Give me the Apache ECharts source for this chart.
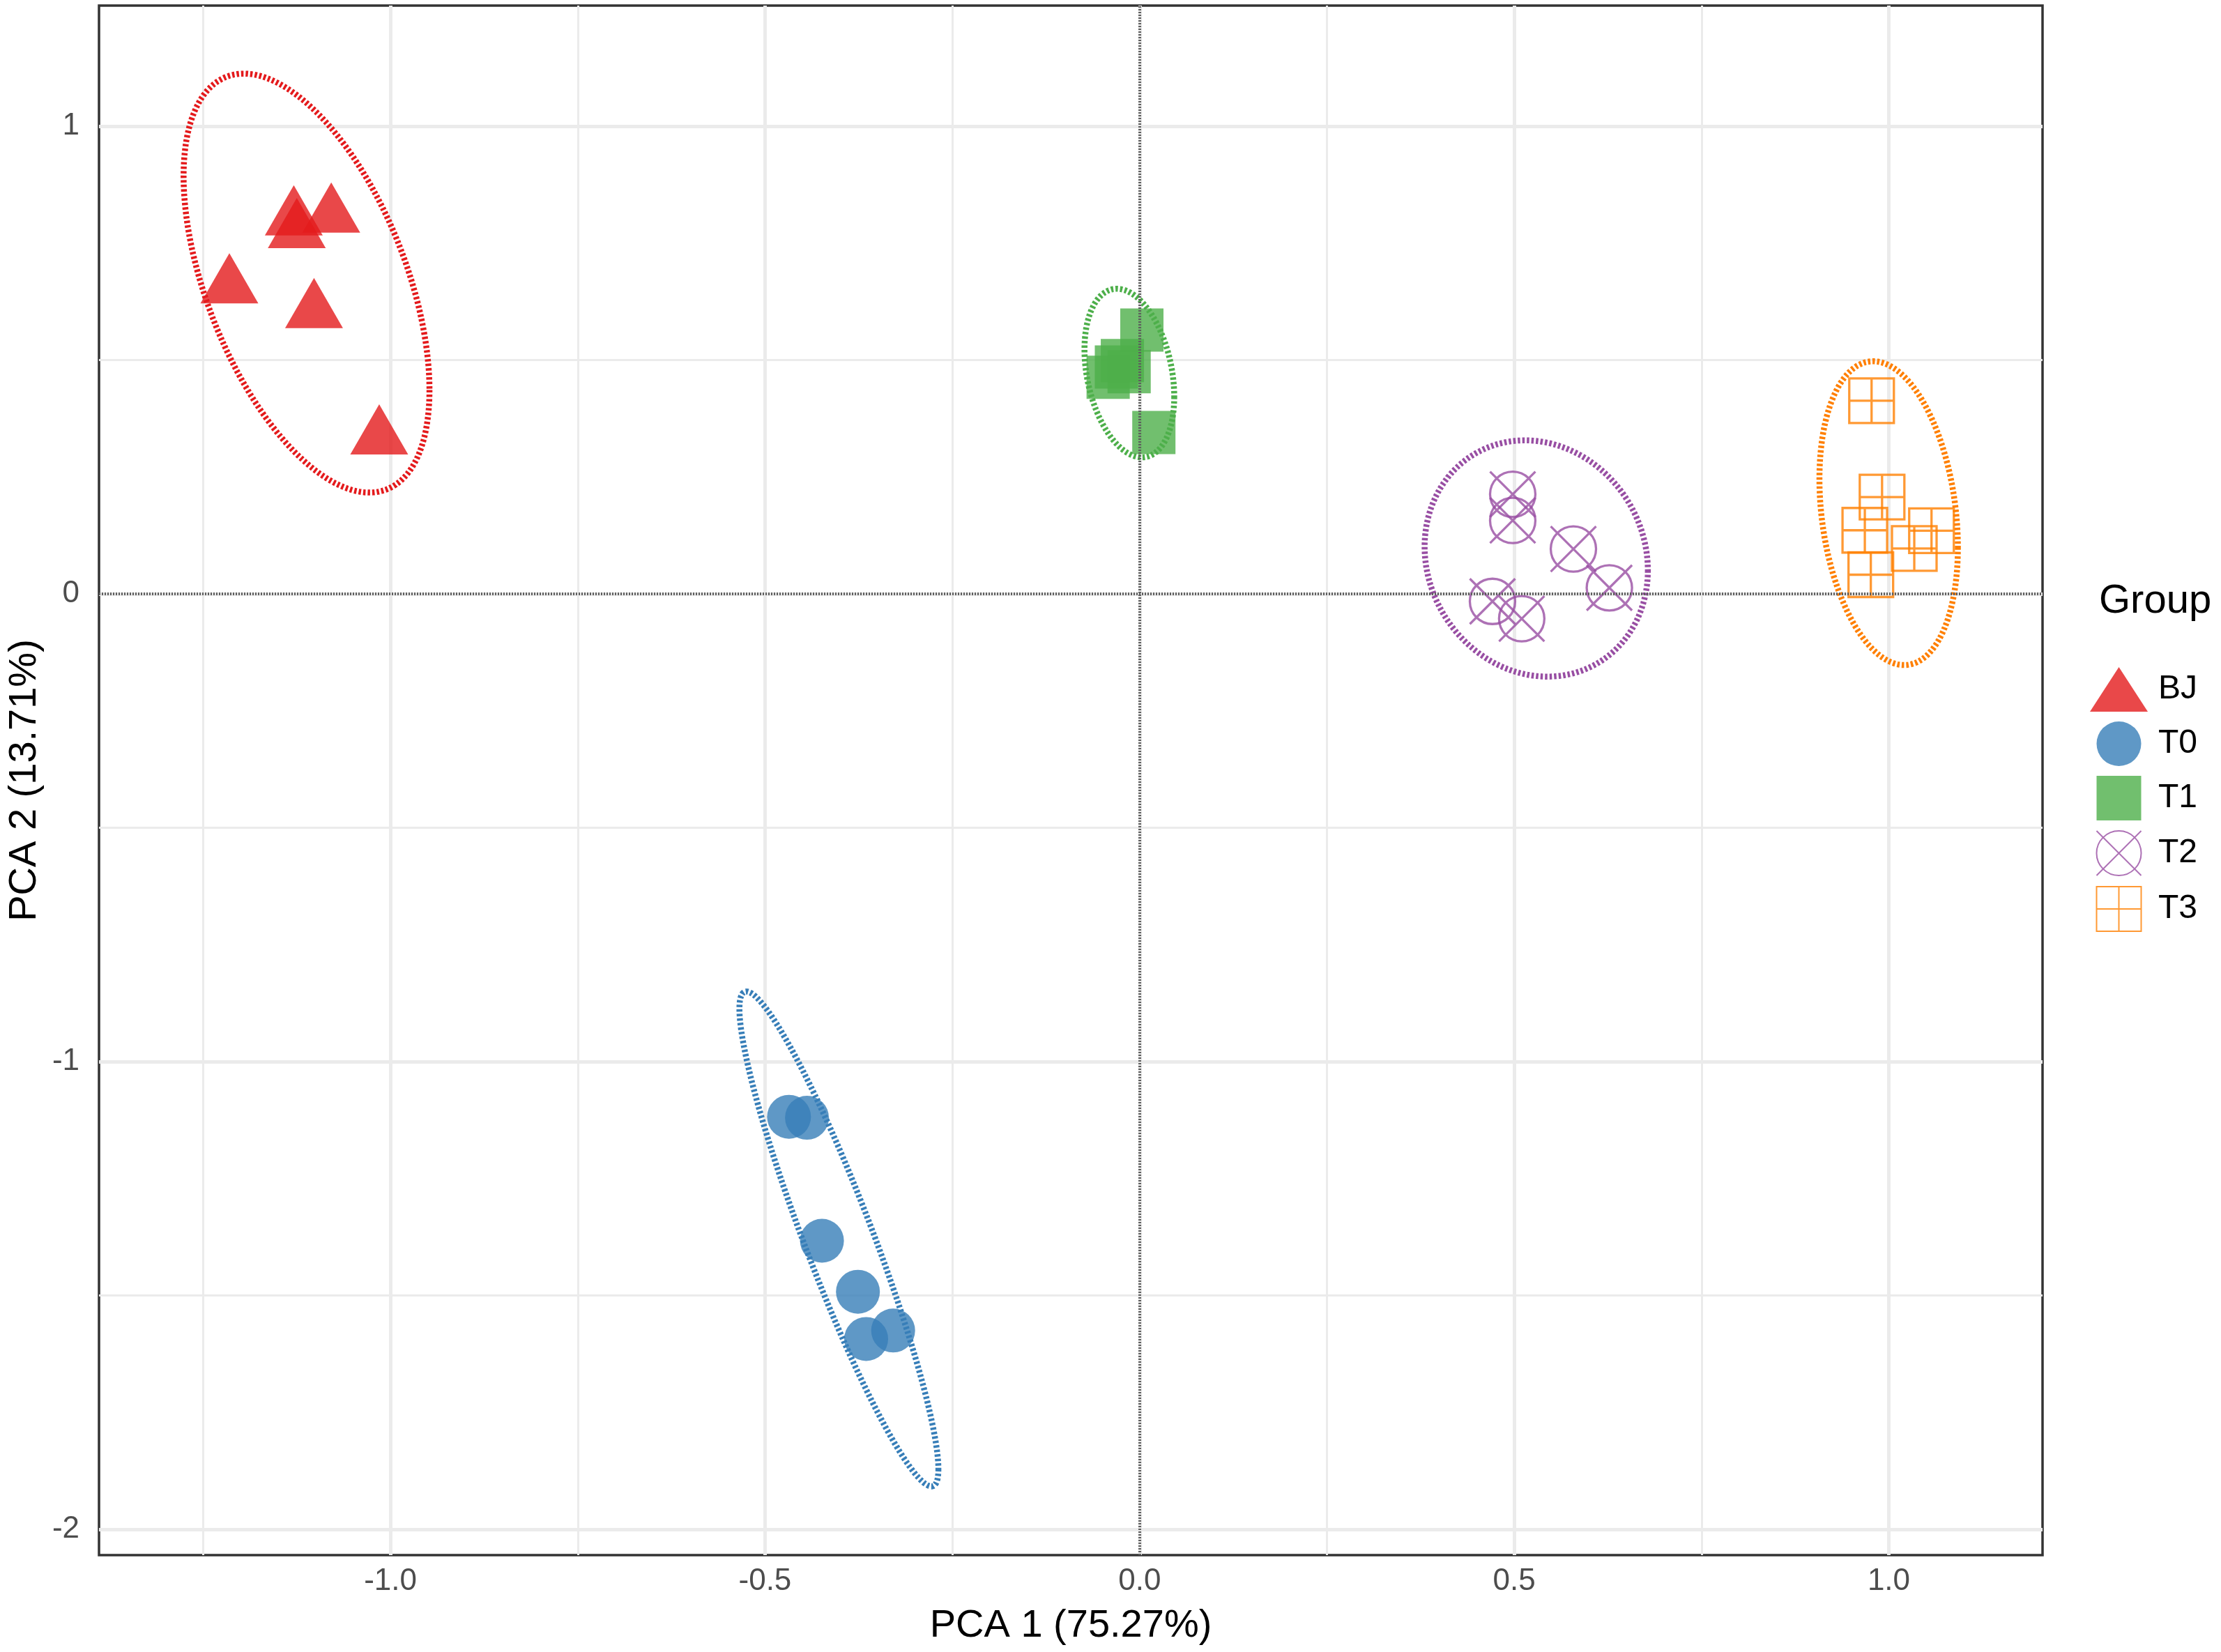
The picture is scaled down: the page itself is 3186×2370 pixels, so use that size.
<!DOCTYPE html>
<html>
<head>
<meta charset="utf-8">
<script src="https://cdn.jsdelivr.net/npm/echarts@6/dist/echarts.min.js"></script>
<style>
    html, body {margin: 0; padding: 0; background: #fff;}
    #chart {width: 3186px; height: 2370px;}
</style>
</head>
<body>
<div id="chart"></div>
<script>
// groups and their colours (RColorBrewer Set1)
const groups = ['BJ', 'T0', 'T1', 'T2', 'T3']
const groupColors = ['#E41A1C', '#377EB8', '#4DAF4A', '#984EA3', '#FF7F00']

// sample scores [PCA1, PCA2]
const bjPoints = [[-1.129, 0.802], [-1.079, 0.808], [-1.125, 0.775], [-1.215, 0.657], [-1.102, 0.604], [-1.015, 0.334]]
const t0Points = [[-0.468, -1.118], [-0.444, -1.120], [-0.424, -1.383], [-0.376, -1.492], [-0.365, -1.593], [-0.329, -1.575]]
const t1Points = [[0.003, 0.564], [0.019, 0.345], [-0.042, 0.463], [-0.014, 0.475], [-0.031, 0.485], [-0.023, 0.499]]
const t2Points = [[0.498, 0.213], [0.498, 0.157], [0.579, 0.096], [0.627, 0.013], [0.471, -0.016], [0.510, -0.053]]
const t3Points = [[0.977, 0.413], [0.991, 0.207], [0.968, 0.136], [1.057, 0.135], [1.034, 0.097], [0.976, 0.041]]

// confidence ellipses as conjugate semi-diameters:
// [centreX, centreY, toRightmostX, toRightmostY, verticalHalfChordX, verticalHalfChordY]
const bjEllipse = [-1.1120, 0.6645, 0.1641, -0.2286, 0, -0.3851]
const t0Ellipse = [-0.4014, -1.3791, 0.1328, -0.4920, 0, -0.1946]
const t1Ellipse = [-0.0137, 0.4721, 0.0599, -0.0504, 0, -0.1730]
const t2Ellipse = [0.5294, 0.0757, 0.1490, -0.0253, 0, -0.2513]
const t3Ellipse = [0.9998, 0.1726, 0.0924, -0.0730, 0, -0.3164]

// axes
const xRange = [-1.389, 1.2052]
const yRange = [-2.0551, 1.2578]
const xTicks = [-1, -0.5, 0, 0.5, 1]
const xMinor = [-1.25, -0.75, -0.25, 0.25, 0.75]
const yTicks = [-2, -1, 0, 1]
const yMinor = [-1.5, -0.5, 0.5]

const FONT = '"Liberation Sans", Arial, Helvetica, sans-serif'

const SYM_SQUARE = 'path://M0 0H100V100H0Z'
const SYM_CIRCLE_X = 'path://M0 50A50 50 0 1 1 100 50A50 50 0 1 1 0 50Z M0 0L100 100M100 0L0 100'
const SYM_SQUARE_PLUS = 'path://M0 0H100V100H0Z M50 0V100 M0 50H100'

function pointSeries(name, data, color, symbol, size, extra) {
    return Object.assign({
        name: name,
        type: 'scatter',
        data: data,
        symbol: symbol,
        symbolSize: size,
        z: 2,
        itemStyle: {color: color, opacity: 0.8},
        emphasis: {disabled: true},
        animation: false,
    }, extra || {})
}

function ellipseSeries(name, params, color) {
    return {
        name: name + ' ellipse',
        type: 'custom',
        data: [params],
        encode: {x: 0, y: 1},
        z: 3,
        silent: true,
        animation: false,
        renderItem(p, api) {
            let cx = api.value(0), cy = api.value(1)
            let ux = api.value(2), uy = api.value(3)
            let vx = api.value(4), vy = api.value(5)
            let pts = []
            for (let i = 0; i <= 240; i++) {
                let t = i / 240 * Math.PI * 2
                pts.push(api.coord([
                    cx + ux * Math.cos(t) + vx * Math.sin(t),
                    cy + uy * Math.cos(t) + vy * Math.sin(t),
                ]))
            }
            return {
                type: 'polyline',
                shape: {points: pts},
                style: {stroke: color, lineWidth: 8.5, lineDash: [3.5, 3], fill: null},
            }
        },
    }
}

// grid lines (major + minor) drawn through the axis scales
let gridLines = []
xTicks.forEach(v => gridLines.push({xAxis: v, lineStyle: {width: 5}}))
xMinor.forEach(v => gridLines.push({xAxis: v, lineStyle: {width: 3}}))
yTicks.forEach(v => gridLines.push({yAxis: v, lineStyle: {width: 5}}))
yMinor.forEach(v => gridLines.push({yAxis: v, lineStyle: {width: 3}}))

let chart = echarts.init(document.getElementById('chart'), null, {renderer: 'canvas'})

chart.setOption({
    backgroundColor: '#ffffff',
    animation: false,
    textStyle: {fontFamily: FONT},
    title: {
        text: 'Group',
        left: 3011,
        top: 834,
        padding: 0,
        textStyle: {fontFamily: FONT, fontSize: 58, fontWeight: 'normal', color: '#000000'},
    },
    legend: {
        data: groups,
        orient: 'vertical',
        left: 2993,
        top: 952,
        itemWidth: 83,
        itemHeight: 64,
        itemGap: 14,
        selectedMode: false,
        textStyle: {fontFamily: FONT, fontSize: 48, color: '#000000', padding: [0, 0, 0, 10]},
    },
    grid: {
        left: 136,
        top: 8,
        width: 2794,
        height: 2223,
        show: true,
        backgroundColor: '#ffffff',
        borderColor: '#333333',
        borderWidth: 3.5,
    },
    xAxis: {
        type: 'value',
        min: xRange[0],
        max: xRange[1],
        name: 'PCA 1 (75.27%)',
        nameLocation: 'middle',
        nameGap: 74,
        nameTextStyle: {fontFamily: FONT, fontSize: 56, color: '#000000'},
        axisLine: {show: false},
        splitLine: {show: false},
        axisTick: {show: true, customValues: xTicks, length: 12, lineStyle: {color: '#333333', width: 3.5}},
        axisLabel: {
            customValues: xTicks,
            margin: 16,
            fontFamily: FONT,
            fontSize: 44,
            color: '#4D4D4D',
            formatter: v => v.toFixed(1),
        },
    },
    yAxis: {
        type: 'value',
        min: yRange[0],
        max: yRange[1],
        name: 'PCA 2 (13.71%)',
        nameLocation: 'middle',
        nameGap: 78,
        nameTextStyle: {fontFamily: FONT, fontSize: 56, color: '#000000'},
        axisLine: {show: false},
        splitLine: {show: false},
        axisTick: {show: true, customValues: yTicks, length: 12, lineStyle: {color: '#333333', width: 3.5}},
        axisLabel: {
            customValues: yTicks,
            margin: 28,
            fontFamily: FONT,
            fontSize: 44,
            color: '#4D4D4D',
            formatter: v => String(v),
        },
    },
    series: [
        {
            name: 'grid lines',
            type: 'scatter',
            data: [],
            silent: true,
            markLine: {
                z: 1,
                silent: true,
                animation: false,
                symbol: ['none', 'none'],
                label: {show: false},
                emphasis: {disabled: true},
                lineStyle: {color: '#EBEBEB', type: 'solid'},
                data: gridLines,
            },
        },
        pointSeries('BJ', bjPoints, groupColors[0], 'triangle', [83, 72], {symbolOffset: [0, -12]}),
        pointSeries('T0', t0Points, groupColors[1], 'circle', 63),
        pointSeries('T1', t1Points, groupColors[2], SYM_SQUARE, 62),
        pointSeries('T2', t2Points, groupColors[3], SYM_CIRCLE_X, 65, {
            itemStyle: {color: 'rgba(0,0,0,0)', borderColor: groupColors[3], borderWidth: 3.3, opacity: 0.8},
        }),
        pointSeries('T3', t3Points, groupColors[4], SYM_SQUARE_PLUS, 64, {
            itemStyle: {color: 'rgba(0,0,0,0)', borderColor: groupColors[4], borderWidth: 3.3, opacity: 0.8},
        }),
        ellipseSeries('BJ', bjEllipse, groupColors[0]),
        ellipseSeries('T0', t0Ellipse, groupColors[1]),
        ellipseSeries('T1', t1Ellipse, groupColors[2]),
        ellipseSeries('T2', t2Ellipse, groupColors[3]),
        ellipseSeries('T3', t3Ellipse, groupColors[4]),
        {
            name: 'zero lines',
            type: 'scatter',
            data: [],
            silent: true,
            markLine: {
                z: 5,
                silent: true,
                animation: false,
                symbol: ['none', 'none'],
                label: {show: false},
                emphasis: {disabled: true},
                lineStyle: {color: '#5E5E5E', width: 4, type: [2, 2]},
                data: [{xAxis: 0}, {yAxis: 0}],
            },
        },
    ],
})
</script>
</body>
</html>
